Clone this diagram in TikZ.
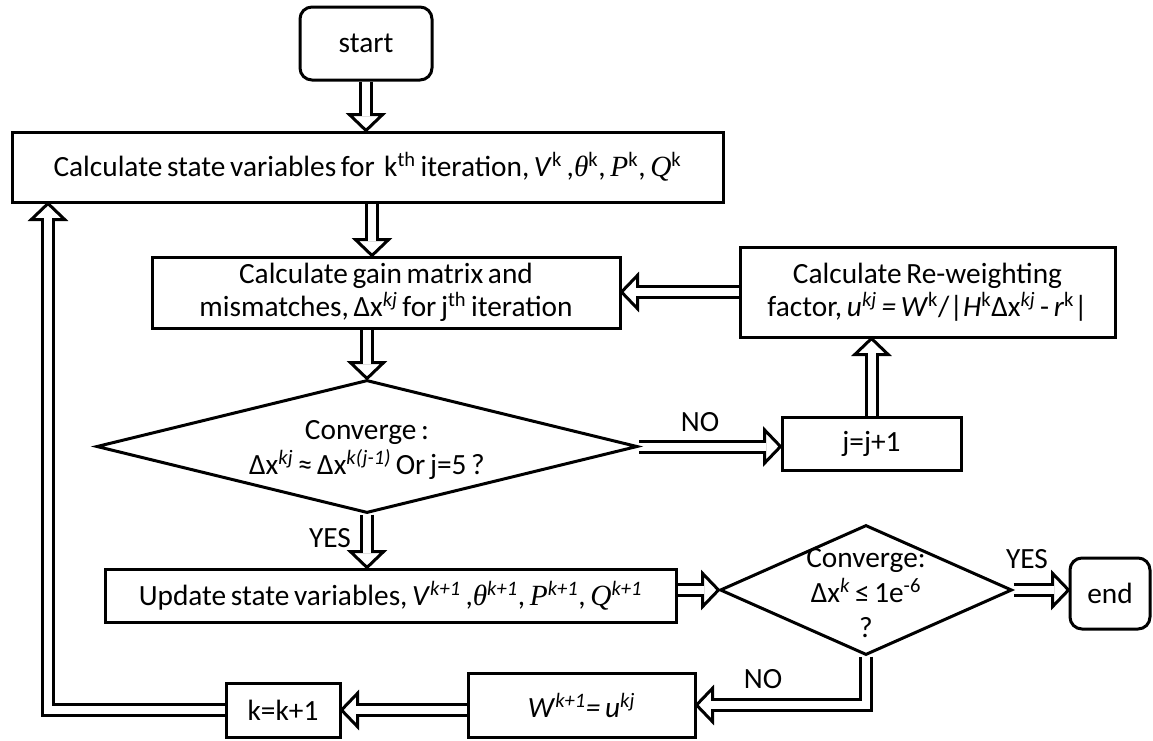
\documentclass[tikz,border=0pt]{standalone}
\usepackage{fontspec}
\setmainfont{Carlito}[WordSpace=0.7]
\newfontfamily\cambria{Liberation Serif}
\usetikzlibrary{calc,shapes.geometric}
\pgfdeclarelayer{bg}
\pgfsetlayers{bg,main}
\newcommand{\mainfs}{\fontsize{22}{25}\selectfont}
\newcommand{\diafs}{\fontsize{22}{26.5}\selectfont}
\newcommand{\sit}[1]{{\cambria\itshape #1}}
\newcommand{\hhead}[2]{%
  \coordinate (hb) at ($(#2)!12pt!(#1)$);
  \filldraw[fill=white, line width=2.25pt, line join=miter]
    (#2) -- ($(hb)!12.5pt!90:(#2)$) -- ($(hb)!12.5pt!-90:(#2)$) -- cycle;}
\begin{document}
\begin{tikzpicture}[x=0.75pt,y=-0.75pt,
  box/.style={draw, line width=2.25pt, fill=white, inner sep=0pt, align=center, font=\mainfs},
  term/.style={box, rounded corners=9pt},
  dia/.style={draw, line width=2.25pt, fill=white, diamond, inner sep=0pt, line join=miter},
  txt/.style={inner sep=0pt, align=center, font=\mainfs},
  hshaft/.style={line width=2.25pt, double=white, double distance=6pt, shorten >=10.8pt}]
\useasboundingbox (0,0) rectangle (1153,740);

% nodes
\node[term, minimum width=99pt, minimum height=54.75pt] (start) at (366,43.5) {start};
\node[box, minimum width=533.25pt, minimum height=52.5pt] (box1) at (367.5,167)
  {Calculate state variables for \ k\textsuperscript{th} iteration, \textit{V}\textsuperscript{k} ,\sit{θ}\textsuperscript{k}, \sit{P}\textsuperscript{k}, \sit{Q}\textsuperscript{k}};
\node[box, minimum width=351pt, minimum height=53.25pt] (box2) at (386,292.5)
  {Calculate gain matrix and\\mismatches, Δx\textsuperscript{\textit{kj}} for j\textsuperscript{th} iteration};
\node[box, minimum width=281.25pt, minimum height=67.5pt] (rew) at (927.5,292)
  {Calculate Re-weighting\\factor, \textit{u}\textsuperscript{\textit{kj}} \textit{=} \textit{W}\textsuperscript{k}/|\textit{H}\textsuperscript{k}Δx\textsuperscript{\textit{kj}} - \textit{r}\textsuperscript{k}|};
\node[dia, minimum width=405.75pt, minimum height=99.75pt] (d1) at (367,446.5) {};
\node[txt, font=\diafs] (d1t) at (367,450) {Converge :\\Δx\textsuperscript{\textit{kj}} ≈ Δx\textsuperscript{\textit{k(j-1)}} Or j=5 ?};
\node[box, minimum width=134.25pt, minimum height=39.75pt] (jbox) at (871.5,443.5) {j=j+1};
\node[box, minimum width=428.25pt, minimum height=39.75pt] (upd) at (390.5,595.5)
  {Update state variables, \textit{V}\textsuperscript{\textit{k+1}} ,\sit{θ}\textsuperscript{\textit{k+1}}, \sit{P}\textsuperscript{\textit{k+1}}, \sit{Q}\textsuperscript{\textit{k+1}}};
\node[dia, minimum width=219pt, minimum height=97.5pt] (d2) at (866,590) {};
\node[txt, font=\diafs] (d2t) at (866,593) {Converge:\\Δx\textsuperscript{\textit{k}} ≤ 1e\textsuperscript{-6}\\?};
\node[term, minimum width=60pt, minimum height=53.25pt] (end) at (1110,593.5) {end};
\node[box, minimum width=170.25pt, minimum height=48pt] (wbox) at (581.5,705)
  {\textit{W}\textsuperscript{\textit{k+1}}\textit{= u}\textsuperscript{\textit{kj}}};
\node[box, minimum width=85.5pt, minimum height=40.5pt] (kbox) at (283,710) {k=k+1};

% labels
\node[txt] (yes1) at (330,538) {YES};
\node[txt] (no1) at (700,422) {NO};
\node[txt] (yes2) at (1027,559) {YES};
\node[txt] (no2) at (763,679) {NO};

\coordinate (c1) at (372,0);
\coordinate (c2) at (48,0);

\begin{pgfonlayer}{bg}
\hhead{start.south}{start.south |- box1.north}
\draw[hshaft] (start.south) -- (start.south |- box1.north);
\hhead{c1 |- box1.south}{c1 |- box2.north}
\draw[hshaft] (c1 |- box1.south) -- (c1 |- box2.north);
\hhead{box2.south -| d1.north}{d1.north}
\draw[hshaft] (box2.south -| d1.north) -- (d1.north);
\hhead{d1.south}{d1.south |- upd.north}
\draw[hshaft] (d1.south) -- (d1.south |- upd.north);
\hhead{rew.west}{rew.west -| box2.east}
\draw[hshaft] (rew.west) -- (rew.west -| box2.east);
\hhead{d1.east}{d1.east -| jbox.west}
\draw[hshaft] (d1.east) -- (d1.east -| jbox.west);
\hhead{jbox.north}{jbox.north |- rew.south}
\draw[hshaft] (jbox.north) -- (jbox.north |- rew.south);
\hhead{upd.east |- d2.west}{d2.west}
\draw[hshaft] (upd.east |- d2.west) -- (d2.west);
\hhead{d2.east}{d2.east -| end.west}
\draw[hshaft] (d2.east) -- (d2.east -| end.west);
\hhead{d2.south |- wbox.east}{wbox.east}
\draw[hshaft] (d2.south) |- (wbox.east);
\hhead{wbox.west |- kbox.east}{kbox.east}
\draw[hshaft] (wbox.west |- kbox.east) -- (kbox.east);
\hhead{c2 |- kbox.west}{c2 |- box1.south}
\draw[hshaft] (kbox.west) -| (c2 |- box1.south);
\end{pgfonlayer}
\end{tikzpicture}
\end{document}
